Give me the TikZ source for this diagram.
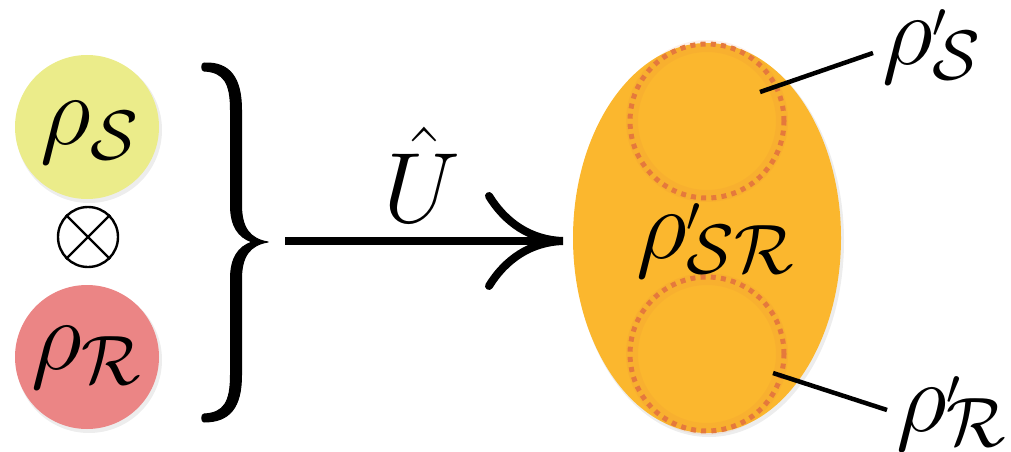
\documentclass[tikz,border=0pt]{standalone}
\usepackage{fix-cm}
\usetikzlibrary{shapes.geometric}
\definecolor{cyel}{HTML}{EBEC8A}
\definecolor{cred}{HTML}{EB8585}
\definecolor{corg}{HTML}{FBB72E}
\definecolor{cdot}{HTML}{E5793C}
\newcommand\rhop[1]{\rho\rlap{\raisebox{27pt}{$\scriptscriptstyle\prime$}}{}_{#1}}
\tikzset{
  ball/.style={circle, inner sep=0pt, minimum size=#1},
  lbl/.style={inner sep=0pt, font=\fontsize{100}{120}\selectfont},
  dotring/.style={draw=cdot, line width=5pt, dash pattern=on 5pt off 5.2pt},
  halo/.style={draw=cdot, line width=12pt, draw opacity=0.10},
  shade/.style={fill=black, fill opacity=0.07},
  leader/.style={line width=4.5pt},
}
\begin{document}
\begin{tikzpicture}[x=1pt,y=-1pt]
\useasboundingbox (0,0) rectangle (1011,452);
% soft shadows
\fill[shade] (89,130) circle (73pt);
\fill[shade] (89,360) circle (73pt);
\fill[shade] (709,241) ellipse (135pt and 196pt);
% left side
\node[ball=144pt, fill=cyel] (S) at (87,127) {};
\node[ball=144pt, fill=cred] (R) at (87,357) {};
\node[ball=60pt, draw, line width=2.4pt] (ot) at (88,237) {};
\draw[line width=2.4pt] (ot.north west) -- (ot.south east) (ot.north east) -- (ot.south west);
\node[lbl, anchor=base west] (tS) at (40,144) {$\rho_{\mathcal{S}}$};
\node[lbl, anchor=base west] (tR) at (31,369) {$\rho_{\mathcal{R}}$};
% brace (tapered, filled)
\coordinate (bmid) at (268,242);
\fill[line join=round, draw, line width=1pt]
  (204,63) .. controls (230,62) and (241.5,78) .. (241.5,110) -- (241.5,205)
  .. controls (241.5,228) and (250,239) .. (bmid)
  .. controls (250,245) and (241.5,256) .. (241.5,279) -- (241.5,375)
  .. controls (241.5,407) and (230,422) .. (204,422)
  .. controls (201,422) and (201,414) .. (204,414)
  .. controls (224,413) and (230.5,402) .. (230.5,375) -- (230.5,279)
  .. controls (230.5,258) and (238,247) .. (252,242)
  .. controls (238,237) and (230.5,226) .. (230.5,205) -- (230.5,110)
  .. controls (230.5,83) and (224,72) .. (204,71)
  .. controls (201,71) and (201,63) .. (204,63) -- cycle;
% ellipse
\node[ellipse, minimum width=268pt, minimum height=390pt, fill=corg, inner sep=0pt] (E) at (707,238) {};
\node[ball=150pt, halo] (hS) at (707,121) {};
\node[ball=150pt, halo] (hR) at (707,354) {};
\node[ball=154pt, dotring] (cS) at (707,121) {};
\node[ball=154pt, dotring] (cR) at (707,354) {};
\node[lbl, anchor=base west] (tSR) at (636,258) {$\rhop{\mathcal{S}\mathcal{R}}$};
% arrow
\coordinate (astart) at (285,241);
\coordinate (tip) at (563,241);
\draw[line width=8pt] (astart) -- (552,241);
\draw[line width=8pt, line cap=round, line join=miter]
  (489,196) .. controls (505,222) and (530,240) .. (tip)
  .. controls (530,242) and (505,260) .. (489,286);
\node[lbl, anchor=base] (U) at (422,222) {$\hat{U}$};
% labels on right
\node[lbl, anchor=base west] (lS) at (882,64) {$\rhop{\mathcal{S}}$};
\node[lbl, anchor=base west] (lR) at (896,431) {$\rhop{\mathcal{R}}$};
\coordinate (pS) at (760,92);
\coordinate (qS) at (873,53);
\coordinate (pR) at (773,373);
\coordinate (qR) at (887,410);
\draw[leader] (pS) -- (qS);
\draw[leader] (pR) -- (qR);
\end{tikzpicture}
\end{document}
